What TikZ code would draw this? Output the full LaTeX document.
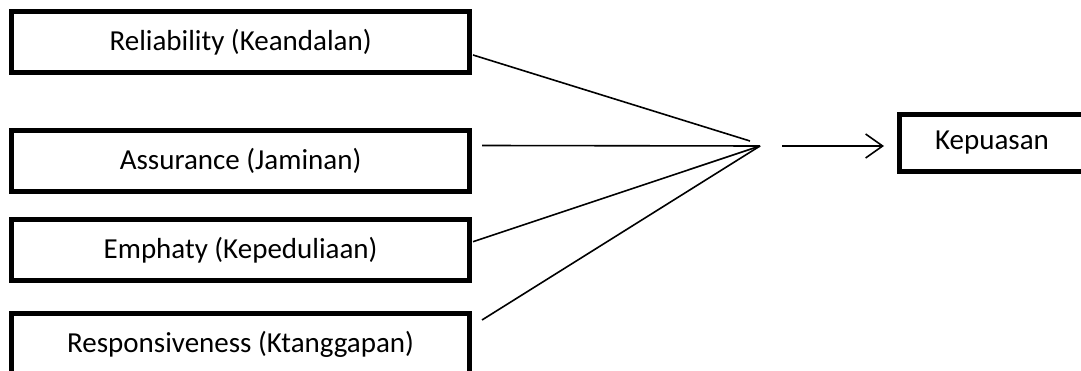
\documentclass[tikz,border=0pt]{standalone}
\usepackage{fontspec}
\setmainfont{Carlito}
\usetikzlibrary{arrows.meta}
\begin{document}
\begin{tikzpicture}[x=1pt,y=-1pt,
  dimbox/.style={draw=black,line width=5pt,fill=white,inner sep=0pt,
    minimum width=458pt,minimum height=61pt,
    font=\fontsize{29}{35}\selectfont,text=black},
  conn/.style={line width=1.6pt,black},
  res/.style={dimbox,minimum width=185pt,minimum height=57pt}]
\useasboundingbox (0,0) rectangle (1081,371);
\clip (0,0) rectangle (1081,371);
\node[dimbox] (b1) at (240.6,42.5) {Reliability (Keandalan)};
\node[dimbox] (b2) at (240.6,161) {Assurance (Jaminan)};
\node[dimbox] (b3) at (240.6,250.3) {Emphaty (Kepeduliaan)};
\node[dimbox] (b4) at (240.6,344) {Responsiveness (Ktanggapan)};
\node[res] (k) at (992,143) {Kepuasan};
\coordinate (s1) at (473,55);
\coordinate (s2) at (482,145.5);
\coordinate (s3) at (473,241.7);
\coordinate (s4) at (482,320);
\coordinate (j1) at (750,141);
\coordinate (j) at (760,146);
\coordinate (a0) at (782,146);
\coordinate (a1) at (884,146);
\draw[conn] (s1) -- (j1);
\draw[conn] (s2) -- (j);
\draw[conn] (s3) -- (j);
\draw[conn] (s4) -- (j);
\draw[conn,-{Straight Barb[length=17pt,width=24pt,line width=1.6pt]}] (a0) -- (a1);
\end{tikzpicture}
\end{document}
